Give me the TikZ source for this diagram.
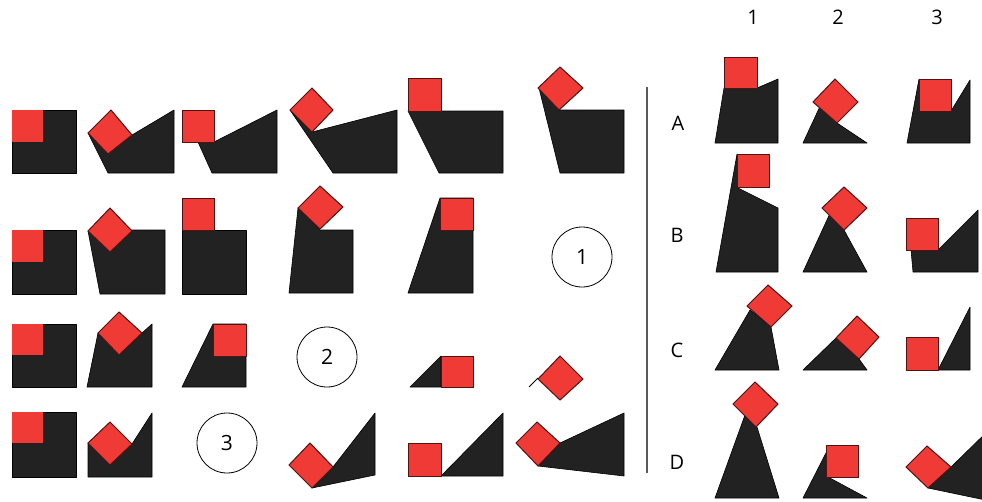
\documentclass[tikz,border=0pt]{standalone}
\usepackage{fontspec}
\setmainfont{Open Sans}
\definecolor{sqred}{RGB}{240,58,54}
\definecolor{sqedge}{RGB}{80,18,18}
\definecolor{blk}{RGB}{34,34,34}
\definecolor{sepgray}{RGB}{90,90,90}
\begin{document}
\begin{tikzpicture}[x=1pt,y=-1pt,
  bshape/.style={fill=blk,draw=black,line width=0.6pt,line join=round},
  rshape/.style={fill=sqred,draw=sqedge,line width=1pt,line join=miter},
  rplain/.style={fill=sqred},
  numcirc/.style={circle,draw=black,line width=0.8pt,minimum size=60pt,inner sep=0pt,font=\fontsize{21}{23}\selectfont},
  lbl/.style={font=\fontsize{20}{22}\selectfont,inner sep=0pt}]
\useasboundingbox (0,0) rectangle (982,501);
\clip (0,0) rectangle (982,501);
% ---------- Row 1 ----------
\filldraw[bshape] (12,110) rectangle (76,173);
\fill[rplain] (12,110) rectangle (43,142);
\filldraw[bshape] (88,133) -- (108,173) -- (174,173) -- (174,110) -- (132,135) -- cycle;
\filldraw[rshape] (111,110) -- (132,135) -- (108,154) -- (88,133) -- cycle;
\filldraw[bshape] (198,142) -- (212,173) -- (277,173) -- (277,110) -- (214,142) -- cycle;
\filldraw[rshape] (182,110) rectangle (214,142);
\filldraw[bshape] (290,110) -- (333,173) -- (397,173) -- (397,110) -- (312,132) -- cycle;
\filldraw[rshape] (312,88) -- (333,110) -- (312,132) -- (290,110) -- cycle;
\filldraw[bshape] (408,111) -- (503,111) -- (503,173) -- (439,173) -- cycle;
\filldraw[rshape] (408,78) rectangle (441,111);
\filldraw[bshape] (539,88) -- (559,110) -- (624,110) -- (624,173) -- (560,173) -- cycle;
\filldraw[rshape] (560,67) -- (583,88) -- (559,110) -- (538,88) -- cycle;
% ---------- Row 2 ----------
\filldraw[bshape] (12,230) rectangle (76,294);
\fill[rplain] (12,230) rectangle (43,262);
\filldraw[bshape] (88,231) -- (100,294) -- (165,294) -- (165,230) -- (132,230) -- cycle;
\filldraw[rshape] (110,208) -- (132,231) -- (110,252) -- (88,231) -- cycle;
\filldraw[bshape] (182,230) rectangle (246,294);
\filldraw[rshape] (182,198) rectangle (214,230);
\filldraw[bshape] (298,208) -- (320,230) -- (353,230) -- (353,293) -- (289,293) -- cycle;
\filldraw[rshape] (320,186) -- (343,207) -- (320,229) -- (298,208) -- cycle;
\filldraw[bshape] (440,198) -- (473,198) -- (473,293) -- (408,293) -- cycle;
\filldraw[rshape] (440,198) rectangle (473,230);
\node[numcirc] (c1) at (582,257) {1};
% ---------- Row 3 ----------
\filldraw[bshape] (12,324) rectangle (76,387);
\fill[rplain] (12,324) rectangle (43,355);
\filldraw[bshape] (98,333) -- (142,333) -- (152,324) -- (152,387) -- (87,387) -- cycle;
\filldraw[rshape] (119,312) -- (142,333) -- (119,355) -- (98,333) -- cycle;
\filldraw[bshape] (213,324) -- (246,324) -- (246,387) -- (182,387) -- cycle;
\filldraw[rshape] (213,324) rectangle (246,356);
\node[numcirc] (c2) at (327,357) {2};
\filldraw[bshape] (410,387) -- (441,356) -- (441,387) -- cycle;
\filldraw[rshape] (441,356) rectangle (473,387);
\draw[black,line width=0.8pt] (529,387) -- (538,378);
\filldraw[rshape] (560,356) -- (583,379) -- (560,400) -- (538,379) -- cycle;
% ---------- Row 4 ----------
\filldraw[bshape] (12,412) rectangle (76,477);
\fill[rplain] (12,412) rectangle (43,443);
\filldraw[bshape] (88,443) -- (132,444) -- (152,413) -- (152,477) -- (88,477) -- cycle;
\filldraw[rshape] (110,422) -- (132,444) -- (110,465) -- (88,443) -- cycle;
\node[numcirc] (c3) at (227,443) {3};
\filldraw[bshape] (312,488) -- (375,475) -- (375,413) -- (333,467) -- cycle;
\filldraw[rshape] (310,443) -- (333,467) -- (312,488) -- (289,465) -- cycle;
\filldraw[bshape] (441,476) -- (503,476) -- (503,413) -- cycle;
\filldraw[rshape] (408,443) rectangle (441,476);
\filldraw[bshape] (538,466) -- (624,476) -- (624,413) -- (560,443) -- cycle;
\filldraw[rshape] (537,422) -- (560,443) -- (538,466) -- (516,443) -- cycle;
% ---------- Separator ----------
\coordinate (septop) at (647,87);
\coordinate (sepbot) at (647,473);
\draw[sepgray,line width=1.2pt] (septop) -- (sepbot);
% ---------- Right panel labels ----------
\node[lbl] (h1) at (753,17) {1};
\node[lbl] (h2) at (838,17) {2};
\node[lbl] (h3) at (937,17) {3};
\node[lbl] (rA) at (678,123) {A};
\node[lbl] (rB) at (677,235) {B};
\node[lbl] (rC) at (677,350) {C};
\node[lbl] (rD) at (677,462) {D};
% ---------- A ----------
\filldraw[bshape] (724,88) -- (757,88) -- (778,79) -- (778,143) -- (715,143) -- cycle;
\filldraw[rshape] (724,57) rectangle (757,88);
\filldraw[bshape] (803,143) -- (867,143) -- (837,123) -- (822,102) -- cycle;
\filldraw[rshape] (835,79) -- (858,102) -- (837,123) -- (813,102) -- cycle;
\filldraw[bshape] (919,79) -- (951,111) -- (970,80) -- (970,143) -- (907,143) -- cycle;
\filldraw[rshape] (919,79) rectangle (951,111);
% ---------- B ----------
\filldraw[bshape] (737,154) -- (738,188) -- (778,208) -- (778,272) -- (716,272) -- cycle;
\filldraw[rshape] (737,154) rectangle (769,187);
\filldraw[bshape] (803,272) -- (867,272) -- (844,230) -- (832,209) -- cycle;
\filldraw[rshape] (844,187) -- (867,208) -- (844,230) -- (822,208) -- cycle;
\filldraw[bshape] (911,250) -- (938,250) -- (978,210) -- (978,272) -- (913,272) -- cycle;
\filldraw[rshape] (906,218) rectangle (938,250);
% ---------- C ----------
\filldraw[bshape] (715,370) -- (779,370) -- (771,327) -- (750,310) -- cycle;
\filldraw[rshape] (768,285) -- (792,306) -- (771,327) -- (747,306) -- cycle;
\filldraw[bshape] (803,370) -- (867,370) -- (859,359) -- (836,338) -- cycle;
\filldraw[rshape] (857,316) -- (879,337) -- (859,359) -- (836,338) -- cycle;
\filldraw[bshape] (938,370) -- (970,370) -- (970,307) -- cycle;
\filldraw[rshape] (906,337) rectangle (938,370);
% ---------- D ----------
\filldraw[bshape] (715,498) -- (779,498) -- (757,427) -- (745,415) -- cycle;
\filldraw[rshape] (755,382) -- (778,404) -- (756,427) -- (733,404) -- cycle;
\filldraw[bshape] (803,498) -- (867,498) -- (828,477) -- (828,449) -- cycle;
\filldraw[rshape] (826,445) rectangle (858,477);
\filldraw[bshape] (928,488) -- (995,502) -- (995,424) -- (951,467) -- cycle;
\filldraw[rshape] (927,446) -- (951,467) -- (928,488) -- (906,467) -- cycle;
\end{tikzpicture}
\end{document}
